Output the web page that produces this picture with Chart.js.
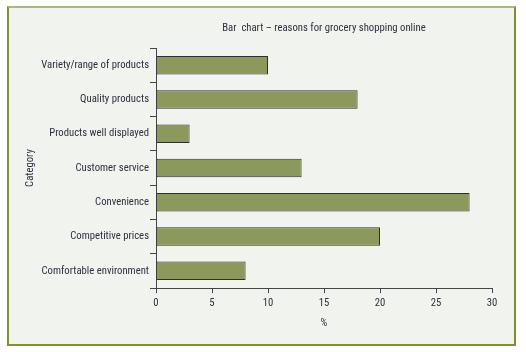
<!DOCTYPE html>
<html>
<head>
<meta charset="utf-8">
<script src="https://cdn.jsdelivr.net/npm/chart.js@4"></script>
<style>
  html, body { margin: 0; padding: 0; background: #ffffff; }
  #wrap { position: relative; width: 526px; height: 352px; }
  #frame { position: absolute; left: 7px; top: 6px; width: 505px; height: 336px;
           background: #f1f3ee; border: 2px solid #7d9234; border-top-color: #aab77a; }
  #c { position: absolute; left: 0; top: 0; }
</style>
</head>
<body>
<div id="wrap">
  <div id="frame"></div>
  <canvas id="c" width="526" height="352"></canvas>
</div>
<script>
const categories = [
  "Variety/range of products",
  "Quality products",
  "Products well displayed",
  "Customer service",
  "Convenience",
  "Competitive prices",
  "Comfortable environment"
];
const percentValues = [10, 18, 3, 13, 28, 20, 8];
const xTicks = [0, 5, 10, 15, 20, 25, 30];
const chartTitle = "Bar  chart \u2013 reasons for grocery shopping online";
const xTitle = "%";
const yTitle = "Category";

const FONT = "'Roboto Condensed', 'Liberation Sans', Arial, sans-serif";
const FSIZE = 10.7;
const TEXT = "#2e3040";
const AXIS = "#444444";

const titlePlugin = {
  id: 'areaTitle',
  afterDraw(chart) {
    const ctx = chart.ctx;
    const a = chart.chartArea;
    ctx.save();
    ctx.font = FSIZE + "px " + FONT;
    ctx.fillStyle = TEXT;
    ctx.textAlign = 'center';
    ctx.textBaseline = 'middle';
    ctx.fillText(chartTitle, (a.left + a.right) / 2, 28);
    ctx.restore();
  }
};

new Chart(document.getElementById('c'), {
  type: 'bar',
  data: {
    labels: categories,
    datasets: [{
      data: percentValues,
      backgroundColor: '#8b9a5c',
      borderColor: '#2f2f2f',
      borderWidth: 1,
      borderSkipped: false,
      barPercentage: 0.54,
      categoryPercentage: 1.0
    }]
  },
  plugins: [titlePlugin],
  options: {
    indexAxis: 'y',
    responsive: false,
    animation: false,
    layout: { padding: { left: 10, top: 48, right: 34, bottom: 20 } },
    plugins: { legend: { display: false }, tooltip: { enabled: false }, title: { display: false } },
    scales: {
      x: {
        min: 0, max: 30,
        afterBuildTicks(s) { s.ticks = xTicks.map(v => ({ value: v })); },
        afterFit(s) { s.height = 44; },
        grid: { display: true, drawOnChartArea: false, drawTicks: true, tickLength: 5, color: AXIS, tickColor: AXIS },
        border: { display: true, color: AXIS, width: 1 },
        ticks: { font: { family: FONT, size: FSIZE }, color: TEXT, padding: 4, maxRotation: 0 },
        title: { display: true, text: xTitle, font: { family: FONT, size: FSIZE }, color: TEXT, padding: { top: 0, bottom: 2 } }
      },
      y: {
        afterFit(s) { s.width = 146; },
        grid: { display: true, drawOnChartArea: false, drawTicks: true, tickLength: 6, color: AXIS, tickColor: AXIS, offset: true },
        border: { display: true, color: AXIS, width: 1 },
        ticks: { font: { family: FONT, size: FSIZE }, color: TEXT, padding: 1 },
        title: { display: true, text: yTitle, font: { family: FONT, size: FSIZE }, color: TEXT, padding: { top: 14, bottom: 0 } }
      }
    }
  }
});
</script>
</body>
</html>
